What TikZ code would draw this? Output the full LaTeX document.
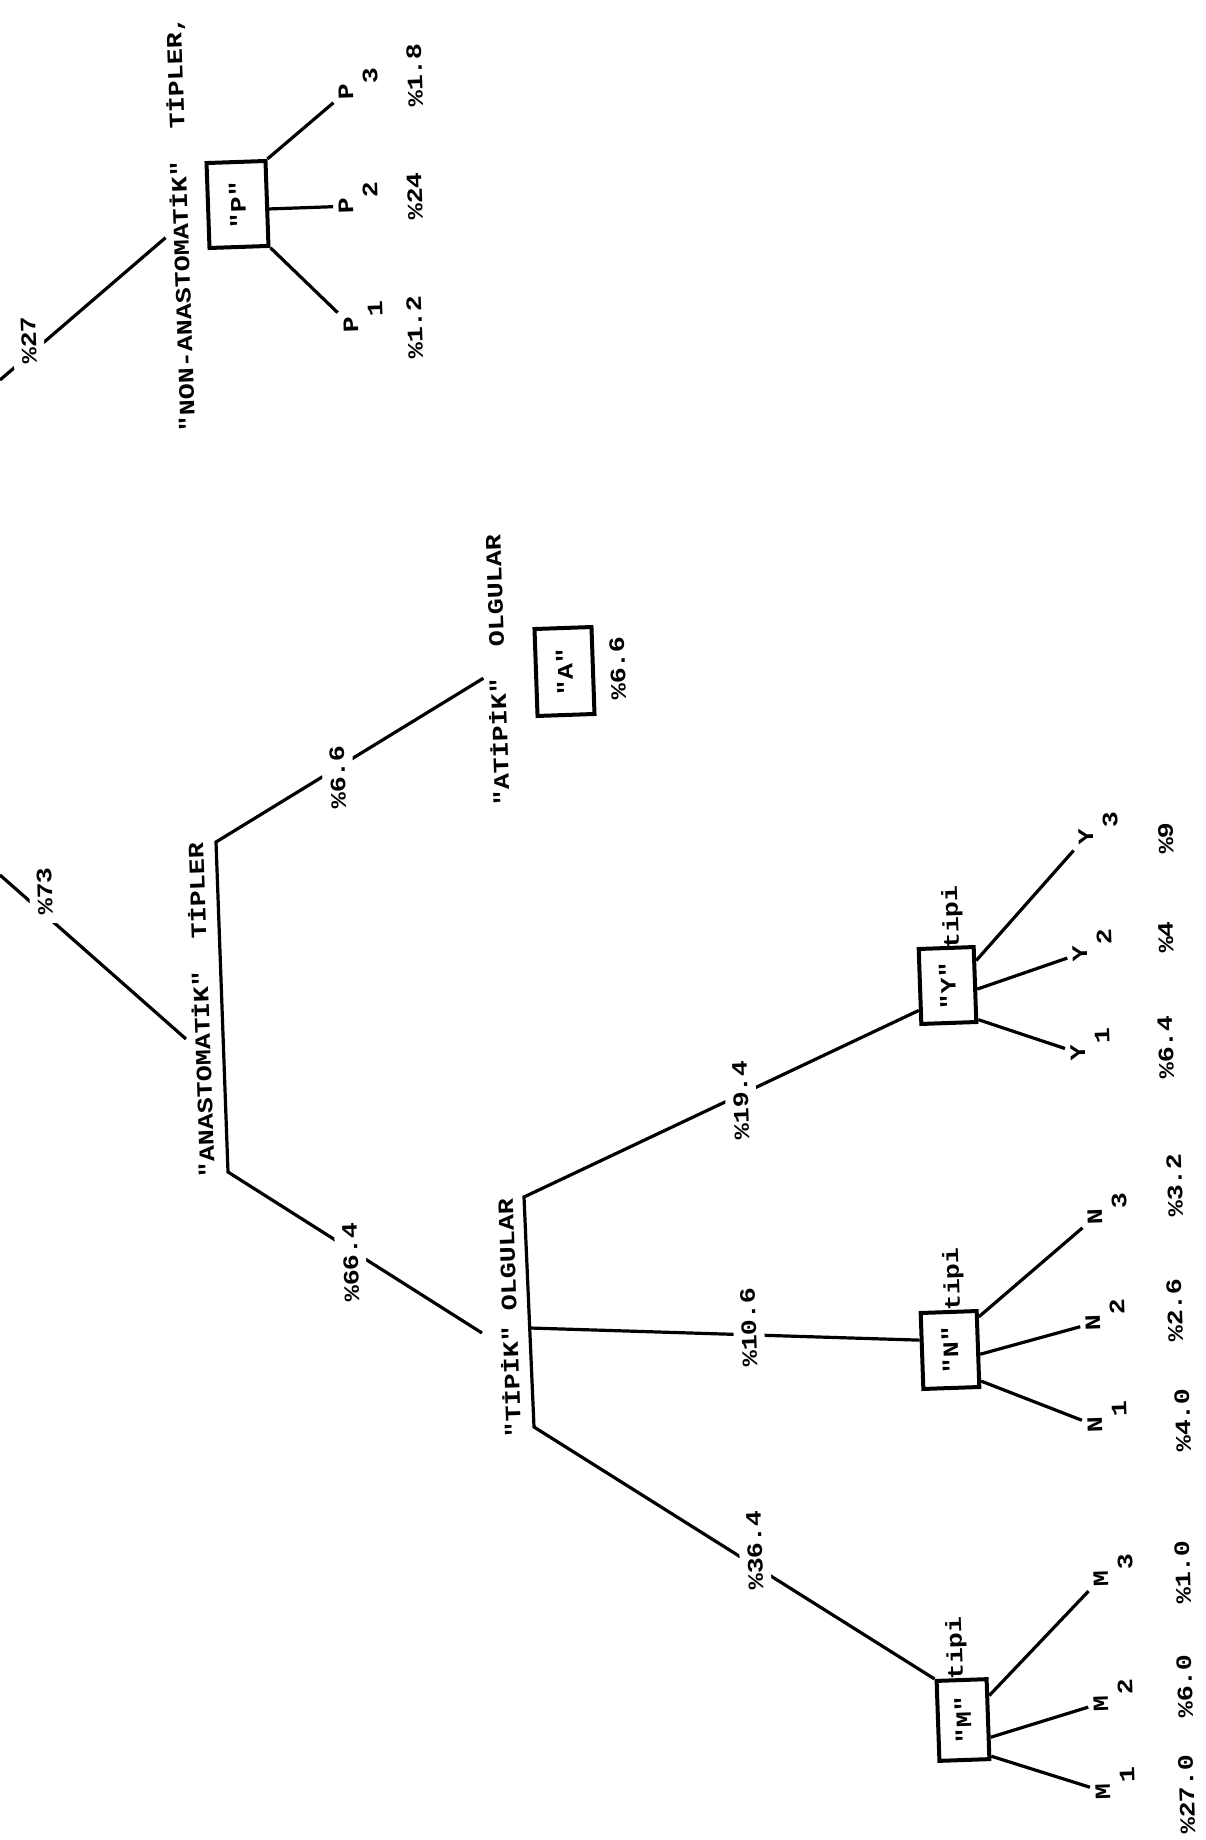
\documentclass[tikz,border=0pt]{standalone}
\usepackage{fontspec}
\setmonofont{Liberation Mono}[FakeStretch=1.21]
\usetikzlibrary{backgrounds}
% subscript set half a line lower, taking no room
\newcommand\lowsub[1]{\rlap{\smash{\raisebox{-12.5pt}{#1}}}}
\begin{document}
\begin{tikzpicture}[x=0.5pt,y=-0.5pt,
  every node/.style={font=\ttfamily\bfseries\fontsize{11}{14}\selectfont},
  txt/.style={rotate=92,anchor=base,inner sep=0pt},
  cut/.style={txt,fill=white,inner sep=4pt},
  leaf/.style={rotate=92,anchor=base,inner sep=2.5pt},
  tbox/.style={draw,line width=2pt,rotate=92,inner sep=0pt},
  wire/.style={line width=1.6pt}]
\useasboundingbox (0,0) rectangle (1205,1840);

% ---- non-anastomotic branch ----
\node[cut] (l27) at (36,340) {\%27};
\node[txt,inner sep=2.5pt] (nonL) at (188,224) {"NON-ANASTOMATİK"~~TİPLER,};
\node[tbox,minimum width=42.5pt,minimum height=29.5pt] (pbox) at (237.5,204.5) {"P"};
\node[leaf] (p3) at (353,92) {P\lowsub{3}};
\node[leaf] (p2) at (353,206) {P\lowsub{2}};
\node[leaf] (p1) at (358,325) {P\lowsub{1}};
\node[txt] (q18) at (422,75) {\%1.8};
\node[txt] (q24) at (422,196) {\%24};
\node[txt] (q12) at (422,327) {\%1.2};

% ---- anastomotic branch ----
\node[cut] (l73) at (52,891) {\%73};
\node[txt] (anaL) at (209,1010) {"ANASTOMATİK"~~TİPLER};
\node[cut] (l66a) at (345,777) {\%6.6};
\node[txt,inner sep=2pt] (atiL) at (505,670) {"ATİPİK"~~OLGULAR};
\node[tbox,minimum width=43.5pt,minimum height=28.5pt] (abox) at (564.5,671.5) {"A"};
\node[txt] (l66b) at (625,668) {\%6.6};
\node[cut] (l664) at (358,1262) {\%66.4};
\node[txt] (tipL) at (517,1318) {"TİPİK"~OLGULAR};
\node[cut] (l194) at (748,1100) {\%19.4};
\node[cut] (l106) at (756,1327) {\%10.6};
\node[cut] (l364) at (762,1550) {\%36.4};

% ---- type boxes ----
\node[tbox,minimum width=37.5pt,minimum height=27.5pt] (ybox) at (947.5,985.5) {"Y"};
\node[tbox,minimum width=38pt,minimum height=28pt] (nbox) at (950,1350) {"N"};
\node[tbox,minimum width=40pt,minimum height=25pt] (mbox) at (963,1720) {"M"};
\node[txt] (ytipi) at (958,917) {tipi};
\node[txt] (ntipi) at (959,1279) {tipi};
\node[txt] (mtipi) at (962,1648) {tipi};

% ---- subtypes ----
\node[leaf] (y3) at (1093,836.5) {Y\lowsub{3}};
\node[leaf] (y2) at (1087,953.5) {Y\lowsub{2}};
\node[leaf] (y1) at (1085,1052.5) {Y\lowsub{1}};
\node[leaf] (n3) at (1102,1217) {N\lowsub{3}};
\node[leaf] (n2) at (1100,1323) {N\lowsub{2}};
\node[leaf] (n1) at (1102,1425) {N\lowsub{1}};
\node[leaf] (m3) at (1108,1578) {M\lowsub{3}};
\node[leaf] (m2) at (1108,1703) {M\lowsub{2}};
\node[leaf] (m1) at (1110,1791) {M\lowsub{1}};

\node[txt] (q9) at (1173,838) {\%9};
\node[txt] (q4) at (1173,937) {\%4};
\node[txt] (q64) at (1173,1047) {\%6.4};
\node[txt] (q32) at (1182,1185) {\%3.2};
\node[txt] (q26) at (1182,1310) {\%2.6};
\node[txt] (q40) at (1190,1420) {\%4.0};
\node[txt] (q10) at (1190,1572) {\%1.0};
\node[txt] (q60) at (1192,1686) {\%6.0};
\node[txt] (q270) at (1194,1794) {\%27.0};

% ---- junction points ----
\coordinate (r27) at (0,380);
\coordinate (r73) at (0,875);
\coordinate (anaIn) at (186,1039);
\coordinate (anaTop) at (216,842);
\coordinate (anaBot) at (228,1172);
\coordinate (tipIn) at (482,1333);
\coordinate (tipTop) at (524,1197);
\coordinate (tipMid) at (530,1328);
\coordinate (tipBot) at (534,1427);

\begin{scope}[on background layer]
  \fill[white] (0,0) rectangle (1205,1840);
  \draw[wire] (r27) -- (nonL);
  \draw[wire] (r73) -- (anaIn);
  \draw[wire] (atiL) -- (anaTop) -- (anaBot) -- (tipIn);
  \draw[wire] (ybox.129) -- (tipTop) -- (tipBot) -- (mbox.north east);
  \draw[wire] (tipMid) -- (nbox.70);
  \draw[wire] (pbox.south east) -- (p3);
  \draw[wire] (pbox.-100) -- (p2);
  \draw[wire] (pbox.south west) -- (p1);
  \draw[wire] (ybox.-51) -- (y3);
  \draw[wire] (ybox.-99) -- (y2);
  \draw[wire] (ybox.-140) -- (y1);
  \draw[wire] (nbox.-43) -- (n3);
  \draw[wire] (nbox.-100) -- (n2);
  \draw[wire] (nbox.-137) -- (n1);
  \draw[wire] (mbox.-49) -- (m3);
  \draw[wire] (mbox.-124) -- (m2);
  \draw[wire] (mbox.-144) -- (m1);
\end{scope}
\end{tikzpicture}
\end{document}
